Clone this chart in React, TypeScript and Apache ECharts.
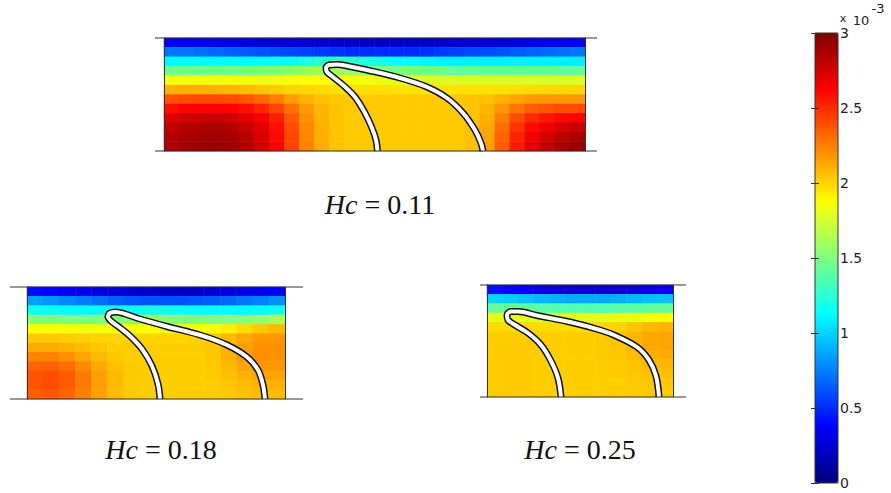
import React, { useEffect, useRef } from "react";
import * as echarts from "echarts";

// MATLAB "jet" colour map stops
const JET = ["#00007F", "#0000FF", "#007FFF", "#00FFFF", "#7FFF7F", "#FFFF00", "#FF7F00", "#FF0000", "#7F0000"];

const COLOR_MIN = 0;
const COLOR_MAX = 3;
const COLOR_STEP = 0.5;

const HC_VALUES = ["0.11", "0.18", "0.25"];

// Field values (x 10^-3), rows listed top -> bottom
const fieldHc011 = [
  [0.34, 0.33, 0.32, 0.31, 0.3, 0.29, 0.28, 0.27, 0.26, 0.25, 0.24, 0.23, 0.22, 0.22, 0.22, 0.22, 0.22, 0.22, 0.23, 0.24, 0.25, 0.26, 0.27, 0.28, 0.3, 0.31, 0.32, 0.34],
  [0.72, 0.72, 0.7, 0.68, 0.66, 0.64, 0.62, 0.6, 0.58, 0.56, 0.54, 0.52, 0.5, 0.5, 0.5, 0.5, 0.5, 0.52, 0.54, 0.56, 0.58, 0.6, 0.62, 0.64, 0.66, 0.68, 0.7, 0.72],
  [1.12, 1.12, 1.12, 1.12, 1.12, 1.12, 1.13, 1.14, 1.16, 1.2, 1.25, 1.28, 1.26, 1.22, 1.18, 1.14, 1.12, 1.1, 1.08, 1.08, 1.08, 1.08, 1.08, 1.08, 1.08, 1.08, 1.08, 1.08],
  [1.45, 1.45, 1.45, 1.46, 1.47, 1.48, 1.5, 1.52, 1.55, 1.58, 1.6, 1.6, 1.58, 1.55, 1.52, 1.5, 1.48, 1.46, 1.44, 1.42, 1.42, 1.42, 1.42, 1.42, 1.42, 1.42, 1.42, 1.42],
  [1.84, 1.84, 1.84, 1.84, 1.84, 1.83, 1.83, 1.84, 1.85, 1.86, 1.86, 1.86, 1.85, 1.84, 1.82, 1.8, 1.79, 1.78, 1.77, 1.76, 1.76, 1.76, 1.76, 1.76, 1.76, 1.76, 1.76, 1.76],
  [2.1, 2.11, 2.11, 2.1, 2.09, 2.07, 2.05, 2.03, 2.0, 1.99, 1.98, 1.97, 1.97, 1.97, 1.97, 1.96, 1.96, 1.96, 1.96, 1.96, 1.96, 1.96, 1.96, 1.97, 1.98, 1.99, 1.99, 1.99],
  [2.38, 2.4, 2.41, 2.41, 2.4, 2.37, 2.32, 2.25, 2.16, 2.1, 2.06, 2.04, 2.03, 2.03, 2.03, 2.03, 2.03, 2.03, 2.03, 2.03, 2.04, 2.06, 2.1, 2.14, 2.17, 2.18, 2.18, 2.18],
  [2.58, 2.62, 2.64, 2.64, 2.62, 2.58, 2.51, 2.42, 2.29, 2.17, 2.09, 2.05, 2.03, 2.03, 2.03, 2.03, 2.03, 2.03, 2.03, 2.03, 2.05, 2.09, 2.18, 2.28, 2.35, 2.38, 2.4, 2.4],
  [2.72, 2.76, 2.78, 2.78, 2.76, 2.71, 2.64, 2.53, 2.36, 2.2, 2.1, 2.05, 2.03, 2.03, 2.03, 2.03, 2.03, 2.03, 2.03, 2.03, 2.05, 2.11, 2.25, 2.4, 2.5, 2.56, 2.6, 2.62],
  [2.8, 2.84, 2.86, 2.86, 2.84, 2.79, 2.71, 2.58, 2.4, 2.22, 2.11, 2.05, 2.03, 2.03, 2.03, 2.03, 2.03, 2.03, 2.03, 2.03, 2.06, 2.13, 2.3, 2.47, 2.6, 2.68, 2.74, 2.78],
  [2.84, 2.88, 2.9, 2.9, 2.88, 2.83, 2.74, 2.6, 2.42, 2.23, 2.11, 2.05, 2.03, 2.03, 2.03, 2.03, 2.03, 2.03, 2.03, 2.03, 2.06, 2.14, 2.33, 2.52, 2.66, 2.75, 2.82, 2.86],
  [2.86, 2.9, 2.92, 2.92, 2.9, 2.85, 2.76, 2.62, 2.43, 2.24, 2.12, 2.05, 2.03, 2.03, 2.03, 2.03, 2.03, 2.03, 2.03, 2.03, 2.06, 2.15, 2.35, 2.55, 2.7, 2.8, 2.87, 2.92],
];

const fieldHc018 = [
  [0.4, 0.38, 0.35, 0.32, 0.29, 0.26, 0.24, 0.22, 0.21, 0.21, 0.22, 0.24, 0.27, 0.3, 0.33, 0.36],
  [0.85, 0.82, 0.78, 0.74, 0.7, 0.66, 0.63, 0.62, 0.62, 0.62, 0.63, 0.65, 0.68, 0.72, 0.76, 0.8],
  [1.18, 1.16, 1.14, 1.12, 1.12, 1.13, 1.16, 1.18, 1.18, 1.16, 1.14, 1.12, 1.12, 1.12, 1.14, 1.16],
  [1.52, 1.52, 1.5, 1.5, 1.5, 1.52, 1.55, 1.56, 1.55, 1.53, 1.52, 1.52, 1.53, 1.55, 1.58, 1.62],
  [1.86, 1.86, 1.85, 1.84, 1.84, 1.85, 1.86, 1.86, 1.85, 1.85, 1.86, 1.88, 1.92, 1.98, 2.04, 2.08],
  [2.03, 2.03, 2.02, 2.01, 2.0, 2.0, 2.0, 2.0, 2.0, 2.0, 2.01, 2.03, 2.08, 2.13, 2.17, 2.18],
  [2.12, 2.12, 2.1, 2.07, 2.04, 2.02, 2.02, 2.02, 2.02, 2.02, 2.02, 2.04, 2.1, 2.16, 2.2, 2.2],
  [2.24, 2.24, 2.2, 2.14, 2.08, 2.04, 2.02, 2.02, 2.02, 2.02, 2.02, 2.04, 2.1, 2.16, 2.2, 2.2],
  [2.33, 2.34, 2.3, 2.22, 2.13, 2.06, 2.03, 2.02, 2.02, 2.02, 2.02, 2.03, 2.08, 2.14, 2.18, 2.18],
  [2.38, 2.4, 2.36, 2.27, 2.16, 2.08, 2.03, 2.02, 2.02, 2.02, 2.02, 2.03, 2.06, 2.1, 2.14, 2.14],
  [2.38, 2.4, 2.36, 2.27, 2.16, 2.08, 2.03, 2.02, 2.02, 2.02, 2.02, 2.02, 2.04, 2.07, 2.1, 2.1],
  [2.35, 2.37, 2.33, 2.25, 2.15, 2.07, 2.03, 2.02, 2.02, 2.02, 2.02, 2.02, 2.03, 2.05, 2.07, 2.07],
];

const fieldHc025 = [
  [0.42, 0.38, 0.34, 0.3, 0.27, 0.25, 0.24, 0.24, 0.25, 0.27, 0.3, 0.32],
  [1.0, 0.98, 0.95, 0.92, 0.9, 0.88, 0.88, 0.88, 0.9, 0.92, 0.94, 0.95],
  [1.42, 1.42, 1.4, 1.38, 1.37, 1.36, 1.36, 1.36, 1.37, 1.38, 1.4, 1.42],
  [1.8, 1.8, 1.79, 1.78, 1.78, 1.78, 1.78, 1.79, 1.8, 1.82, 1.85, 1.88],
  [1.98, 1.98, 1.98, 1.98, 1.98, 1.98, 1.98, 1.99, 2.0, 2.04, 2.08, 2.1],
  [2.02, 2.02, 2.02, 2.02, 2.02, 2.02, 2.02, 2.03, 2.05, 2.09, 2.13, 2.14],
  [2.03, 2.03, 2.03, 2.02, 2.02, 2.02, 2.02, 2.03, 2.05, 2.09, 2.13, 2.14],
  [2.03, 2.03, 2.03, 2.02, 2.02, 2.02, 2.02, 2.03, 2.04, 2.07, 2.11, 2.12],
  [2.03, 2.03, 2.03, 2.02, 2.02, 2.02, 2.02, 2.02, 2.03, 2.05, 2.08, 2.09],
  [2.03, 2.03, 2.03, 2.02, 2.02, 2.02, 2.02, 2.02, 2.03, 2.04, 2.06, 2.06],
  [2.03, 2.03, 2.03, 2.02, 2.02, 2.02, 2.02, 2.02, 2.02, 2.03, 2.04, 2.04],
  [2.03, 2.03, 2.03, 2.02, 2.02, 2.02, 2.02, 2.02, 2.02, 2.03, 2.03, 2.03],
];

// Interface (finger) centre lines, in domain units: x from left wall, y up from bottom
const fingerHc011 = [
  [213.5, 0], [212, 11], [208, 23], [201, 38], [191, 54], [179, 66], [169, 74], [163, 79], [162, 83],
  [165, 86], [173, 86.5], [186, 84.5], [203, 81], [236, 73], [263, 64], [283, 53], [299, 38], [311, 21],
  [317, 8], [319, 0],
];
const fingerHc018 = [
  [133, 0], [131, 15], [125, 33], [115, 50], [103, 63], [92, 72], [84, 78], [81, 82], [83, 86], [89, 87],
  [98, 85], [113, 80], [140, 72.5], [173, 64], [200, 54], [220, 42], [231, 29], [236, 14], [238, 0],
];
const fingerHc025 = [
  [74, 0], [71, 19], [64, 36], [54, 52], [41, 64], [28, 72], [21, 77], [20, 82], [24, 85.5], [31, 85.5],
  [50, 81.5], [83, 75], [113, 67], [128, 61.5], [150, 50], [162, 37], [169, 21], [172, 0],
];

// Layout of the three panels (pixels)
const PANELS = [
  { field: fieldHc011, finger: fingerHc011, hc: HC_VALUES[0], left: 164, top: 38, width: 421, height: 113, lineL: 155, lineR: 597, labelX: 380, labelY: 204 },
  { field: fieldHc018, finger: fingerHc018, hc: HC_VALUES[1], left: 27, top: 287, width: 258, height: 112, lineL: 10, lineR: 303, labelX: 161, labelY: 449 },
  { field: fieldHc025, finger: fingerHc025, hc: HC_VALUES[2], left: 487, top: 285, width: 186, height: 112, lineL: 480, lineR: 686, labelX: 580, labelY: 449 },
];

const CB = { left: 815, top: 33, width: 23, height: 450 };
const FRAME = "#333";

export default function App() {
  const ref = useRef<HTMLDivElement>(null);

  useEffect(() => {
    if (!ref.current) return;
    const chart = echarts.init(ref.current, undefined, { renderer: "svg" });

    const grid: any[] = [];
    const xAxis: any[] = [];
    const yAxis: any[] = [];
    const series: any[] = [];
    const graphic: any[] = [];

    const hidden = { axisLabel: { show: false }, axisTick: { show: false }, splitLine: { show: false } };

    PANELS.forEach((p, i) => {
      grid.push({ left: p.left, top: p.top, width: p.width, height: p.height, containLabel: false });
      const cols = p.field[0].length;
      const rows = p.field.length;
      xAxis.push({ type: "category", gridIndex: i, position: "bottom", data: p.field[0].map((_, j) => String(j)), axisLine: { show: false }, ...hidden });
      xAxis.push({ type: "value", gridIndex: i, position: "top", min: 0, max: p.width, axisLine: { show: false }, ...hidden });
      yAxis.push({ type: "category", gridIndex: i, position: "left", inverse: true, data: p.field.map((_, r) => String(r)), z: 6, axisLine: { show: true, lineStyle: { color: FRAME, width: 1 } }, ...hidden });
      yAxis.push({ type: "value", gridIndex: i, position: "right", min: 0, max: p.height, z: 6, axisLine: { show: true, lineStyle: { color: FRAME, width: 1 } }, ...hidden });

      const data: number[][] = [];
      for (let r = 0; r < rows; r++) for (let c = 0; c < cols; c++) data.push([c, r, p.field[r][c]]);
      series.push({
        type: "heatmap", xAxisIndex: 2 * i, yAxisIndex: 2 * i, data, silent: true, progressive: 0,
        itemStyle: { borderWidth: 0 }, emphasis: { disabled: true },
      });

      graphic.push({ type: "line", z: 20, shape: { x1: p.lineL, y1: p.top, x2: p.lineR, y2: p.top }, style: { stroke: FRAME, lineWidth: 1.2 } });
      graphic.push({ type: "line", z: 20, shape: { x1: p.lineL, y1: p.top + p.height, x2: p.lineR, y2: p.top + p.height }, style: { stroke: FRAME, lineWidth: 1.2 } });
      graphic.push({
        type: "text", z: 20, x: p.labelX, y: p.labelY,
        style: {
          text: `{i|Hc}{e|=}{n|${p.hc}}`,
          align: "center", verticalAlign: "middle", textAlign: "center", textVerticalAlign: "middle",
          rich: {
            i: { fontFamily: "Liberation Serif", fontStyle: "italic", fontSize: 28, fill: "#111" },
            e: { fontFamily: "Liberation Serif", fontSize: 28, fill: "#111", padding: [0, 7, 0, 7] },
            n: { fontFamily: "Liberation Serif", fontSize: 28, fill: "#111" },
          },
        },
      });
    });

    // finger lines (after heatmaps so seriesIndex 0..2 are heatmaps)
    PANELS.forEach((p, i) => {
      series.push({
        type: "line", xAxisIndex: 2 * i + 1, yAxisIndex: 2 * i + 1, data: p.finger, smooth: 0.35, showSymbol: false,
        silent: true, z: 5, lineStyle: { color: "#111", width: 7 }, animation: false,
      });
      series.push({
        type: "line", xAxisIndex: 2 * i + 1, yAxisIndex: 2 * i + 1, data: p.finger, smooth: 0.35, showSymbol: false,
        silent: true, z: 6, lineStyle: { color: "#ffffff", width: 4 }, animation: false,
      });
    });

    // colour bar frame + axes
    grid.push({ left: CB.left, top: CB.top, width: CB.width, height: CB.height, show: true, borderColor: FRAME, borderWidth: 1, backgroundColor: "transparent", z: 10 });
    xAxis.push({ type: "value", gridIndex: 3, min: 0, max: 1, show: false });
    const tickCommon = { show: true, inside: true, length: 4, lineStyle: { color: FRAME, width: 1 } };
    yAxis.push({
      type: "value", gridIndex: 3, position: "right", min: COLOR_MIN, max: COLOR_MAX, interval: COLOR_STEP, z: 11,
      axisLine: { show: false }, axisTick: tickCommon, splitLine: { show: false },
      axisLabel: { show: true, margin: 2, color: "#222", fontFamily: "DejaVu Sans", fontSize: 14, formatter: (v: number) => String(v) },
    });
    yAxis.push({
      type: "value", gridIndex: 3, position: "left", min: COLOR_MIN, max: COLOR_MAX, interval: COLOR_STEP, z: 11,
      axisLine: { show: false }, axisTick: tickCommon, splitLine: { show: false }, axisLabel: { show: false },
    });

    graphic.push({ type: "text", z: 20, x: 843, y: 18, style: { text: "x", fontFamily: "DejaVu Sans", fontSize: 11, fill: "#222", align: "center", verticalAlign: "middle", textAlign: "center", textVerticalAlign: "middle" } });
    graphic.push({ type: "text", z: 20, x: 861, y: 20, style: { text: "10", fontFamily: "DejaVu Sans", fontSize: 13, fill: "#222", align: "center", verticalAlign: "middle", textAlign: "center", textVerticalAlign: "middle" } });
    graphic.push({ type: "text", z: 20, x: 878, y: 8, style: { text: "-3", fontFamily: "DejaVu Sans", fontSize: 13, fill: "#222", align: "center", verticalAlign: "middle", textAlign: "center", textVerticalAlign: "middle" } });

    chart.setOption({
      animation: false,
      backgroundColor: "#ffffff",
      grid, xAxis, yAxis, series, graphic,
      visualMap: {
        type: "continuous", min: COLOR_MIN, max: COLOR_MAX, seriesIndex: [0, 1, 2],
        calculable: false, show: true, hoverLink: false,
        left: CB.left, top: CB.top, itemWidth: CB.width, itemHeight: CB.height, padding: 0,
        inRange: { color: JET },
      },
    });

    return () => chart.dispose();
  }, []);

  return <div ref={ref} style={{ position: "absolute", left: 0, top: 0, width: 891, height: 493, background: "#fff" }} />;
}
